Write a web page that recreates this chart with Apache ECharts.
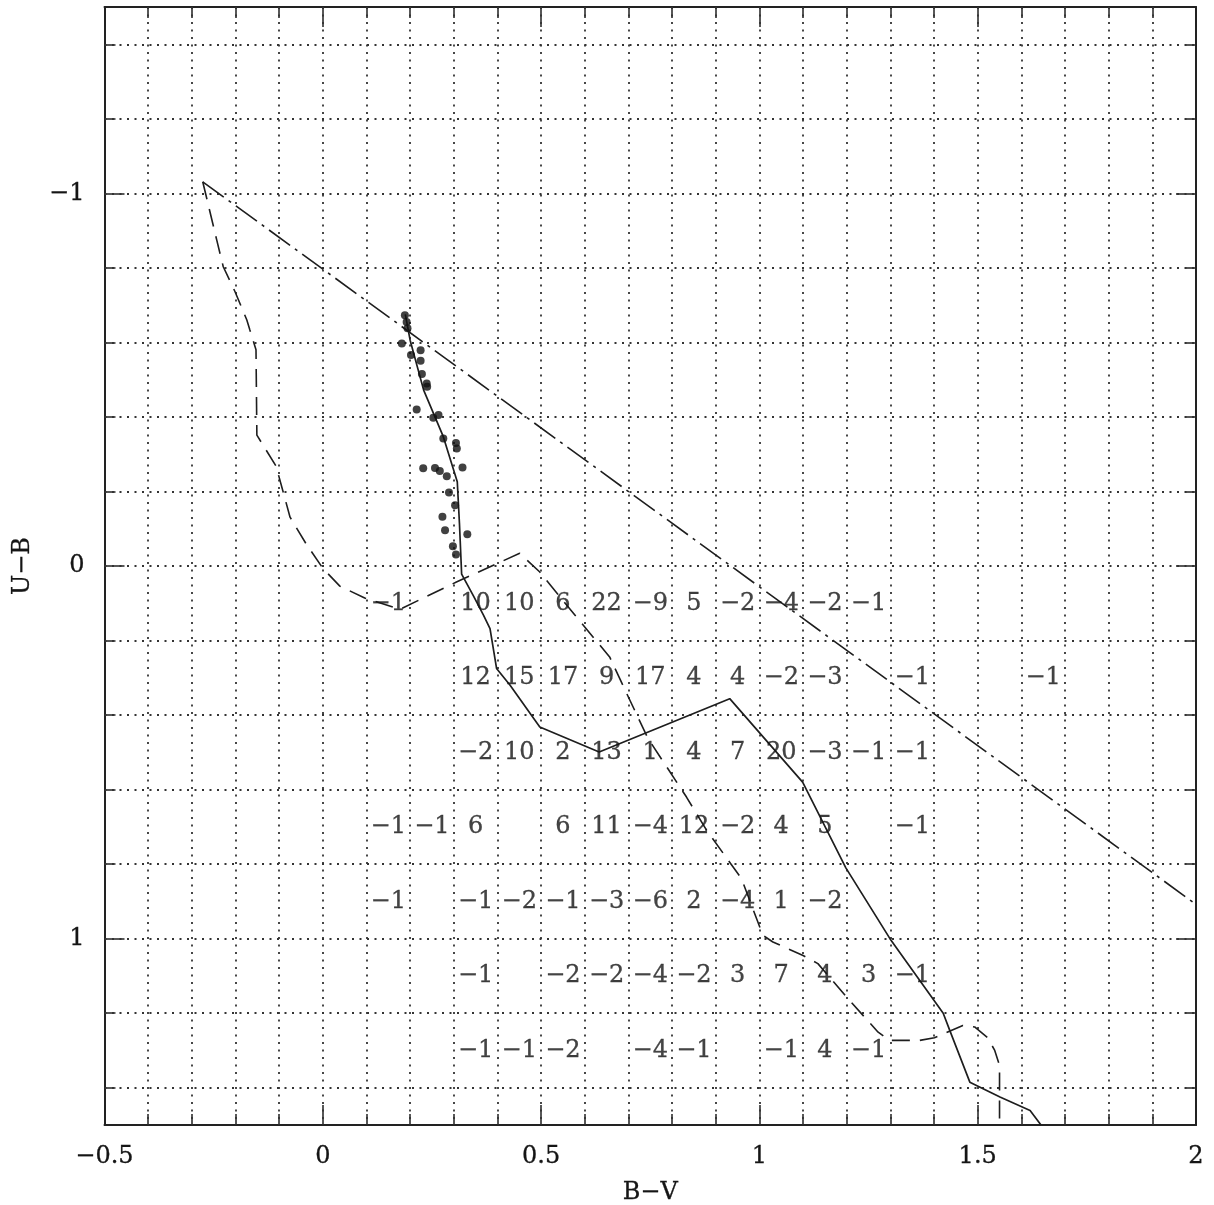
<!DOCTYPE html>
<html><head><meta charset="utf-8">
<script src="https://cdn.jsdelivr.net/npm/echarts@6/dist/echarts.min.js"></script>
<style>html,body{margin:0;padding:0;background:#fff}#c{width:1214px;height:1205px}</style>
</head><body><div id="c"></div>
<script>
// ---- data ----
const gridBV = [-0.4,-0.3,-0.2,-0.1,0,0.1,0.2,0.3,0.4,0.5,0.6,0.7,0.8,0.9,1.0,1.1,1.2,1.3,1.4,1.5,1.6,1.7,1.8,1.9];
const gridUB = [-1.4,-1.2,-1.0,-0.8,-0.6,-0.4,-0.2,0,0.2,0.4,0.6,0.8,1.0,1.2,1.4];
const yLabelValues = [-1, 0, 1];

// reddening (dash-dot) line
const reddeningBV = [-0.275, 2.0];
const reddeningUB = [-1.031, 0.908];

// dashed curve
const dashedBV = [-0.275,-0.243,-0.228,-0.201,-0.174,-0.167,-0.153,-0.151,-0.107,-0.075,-0.039,0.000,0.039,0.096,0.177,0.306,0.451,0.497,0.581,0.657,0.696,0.745,0.833,0.879,0.959,1.008,1.031,1.100,1.134,1.203,1.272,1.298,1.367,1.401,1.466,1.493,1.523,1.539,1.550,1.550];
const dashedUB = [-1.031,-0.875,-0.803,-0.736,-0.660,-0.633,-0.580,-0.351,-0.268,-0.131,-0.061,0.006,0.054,0.086,0.116,0.043,-0.034,0.016,0.137,0.244,0.342,0.463,0.620,0.709,0.839,0.991,1.009,1.045,1.067,1.161,1.251,1.273,1.273,1.266,1.233,1.237,1.266,1.300,1.340,1.500];

// solid curve
const solidBV = [0.189,0.200,0.231,0.276,0.308,0.313,0.318,0.345,0.368,0.383,0.398,0.429,0.497,0.633,0.932,1.099,1.198,1.299,1.421,1.436,1.482,1.551,1.620,1.645];
const solidUB = [-0.675,-0.606,-0.472,-0.347,-0.226,-0.114,0.022,0.080,0.132,0.168,0.275,0.320,0.432,0.499,0.356,0.580,0.810,1.000,1.200,1.246,1.385,1.425,1.461,1.500];

// observed stars
const starsBV = [0.188,0.192,0.194,0.181,0.224,0.202,0.224,0.227,0.238,0.239,0.215,0.253,0.265,0.276,0.305,0.307,0.230,0.257,0.268,0.284,0.320,0.289,0.303,0.274,0.280,0.331,0.298,0.305];
const starsUB = [-0.673,-0.655,-0.638,-0.597,-0.579,-0.566,-0.551,-0.515,-0.490,-0.481,-0.420,-0.398,-0.405,-0.342,-0.330,-0.315,-0.262,-0.263,-0.255,-0.241,-0.264,-0.197,-0.163,-0.132,-0.096,-0.085,-0.053,-0.031];

// cell counts
const cellBV = [0.15,0.25,0.35,0.45,0.55,0.65,0.75,0.85,0.95,1.05,1.15,1.25,1.35,1.45,1.55,1.65];
const cellUB = [0.1,0.3,0.5,0.7,0.9,1.1,1.3];
const countsRow1 = [-1,null,10,10,6,22,-9,5,-2,-4,-2,-1,null,null,null,null];
const countsRow2 = [null,null,12,15,17,9,17,4,4,-2,-3,null,-1,null,null,-1];
const countsRow3 = [null,null,-2,10,2,13,1,4,7,20,-3,-1,-1,null,null,null];
const countsRow4 = [-1,-1,6,null,6,11,-4,12,-2,4,5,null,-1,null,null,null];
const countsRow5 = [-1,null,-1,-2,-1,-3,-6,2,-4,1,-2,null,null,null,null,null];
const countsRow6 = [null,null,-1,null,-2,-2,-4,-2,3,7,4,3,-1,null,null,null];
const countsRow7 = [null,null,-1,-1,-2,null,-4,-1,null,-1,4,-1,null,null,null,null];
const countRows = [countsRow1,countsRow2,countsRow3,countsRow4,countsRow5,countsRow6,countsRow7];

// ---- build ----
const FONT = 'DejaVu Serif';
const INK = '#151515';
const minus = v => (v < 0 ? '\u2212' + String(Math.abs(v)) : String(v));
const pairs = (a, b) => a.map((x, i) => [x, b[i]]);

const cellData = [];
countRows.forEach((row, r) => row.forEach((n, c) => {
  if (n !== null) cellData.push([cellBV[c], cellUB[r], minus(n)]);
}));

const labelFont = {fontFamily: FONT, fontSize: 24, color: INK, textBorderColor: INK, textBorderWidth: 0.3};
const axLine = {show: true, onZero: false, lineStyle: {color: '#222', width: 2}};
const noLine = {show: false, onZero: false};
const tickStyle = {color: '#222', width: 1.5};
const dotted = {color: '#333', width: 1.8, type: [2, 5.5]};

const xBase = {type: 'value', min: -0.5, max: 2, interval: 0.5, splitLine: {show: false}, axisLine: axLine};
const yBase = {type: 'value', min: -1.5, max: 1.5, inverse: true, splitLine: {show: false}};

const option = {
  animation: false,
  backgroundColor: '#fff',
  grid: {left: 104.5, right: 18, top: 7, bottom: 80, outerBoundsMode: 'none', containLabel: false},
  xAxis: [
    Object.assign({}, xBase, {
      position: 'bottom',
      axisTick: {show: true, inside: true, length: 20, lineStyle: tickStyle},
      minorTick: {show: true, splitNumber: 5, length: 11, lineStyle: tickStyle},
      axisLabel: Object.assign({margin: 20, formatter: v => minus(v)}, labelFont),
      name: 'B\u2212V', nameLocation: 'middle', nameGap: 56,
      nameTextStyle: labelFont
    }),
    Object.assign({}, xBase, {
      position: 'top',
      axisTick: {show: true, inside: true, length: 20, lineStyle: tickStyle},
      minorTick: {show: true, splitNumber: 5, length: 11, lineStyle: tickStyle},
      axisLabel: {show: false}
    })
  ],
  yAxis: [
    Object.assign({}, yBase, {
      position: 'left', axisLine: axLine,
      axisTick: {show: true, inside: true, length: 20, customValues: yLabelValues, lineStyle: tickStyle},
      axisLabel: Object.assign({margin: 20, customValues: yLabelValues, formatter: v => minus(v)}, labelFont),
      name: 'U\u2212B', nameLocation: 'middle', nameGap: 70, nameRotate: 90,
      nameTextStyle: labelFont
    }),
    Object.assign({}, yBase, {
      position: 'right', axisLine: axLine,
      axisTick: {show: true, inside: true, length: 20, customValues: yLabelValues, lineStyle: tickStyle},
      axisLabel: {show: false}
    }),
    Object.assign({}, yBase, {
      position: 'left', axisLine: noLine,
      axisTick: {show: true, inside: true, length: 11, customValues: gridUB, lineStyle: tickStyle},
      axisLabel: {show: false}
    }),
    Object.assign({}, yBase, {
      position: 'right', axisLine: noLine,
      axisTick: {show: true, inside: true, length: 11, customValues: gridUB, lineStyle: tickStyle},
      axisLabel: {show: false}
    })
  ],
  series: [
    {
      type: 'line', name: 'reddening', data: pairs(reddeningBV, reddeningUB),
      symbol: 'none', z: 3,
      lineStyle: {color: '#1e1e1e', width: 1.6, type: [26, 6, 3, 6]},
      markLine: {
        silent: true, symbol: ['none', 'none'], label: {show: false}, z: 1,
        lineStyle: dotted,
        emphasis: {disabled: true},
        data: gridBV.map(v => ({xAxis: v})).concat(gridUB.map(v => ({yAxis: v})))
      }
    },
    {
      type: 'line', name: 'dashed', data: pairs(dashedBV, dashedUB),
      symbol: 'none', z: 3,
      lineStyle: {color: '#1e1e1e', width: 1.6, type: [18, 10]}
    },
    {
      type: 'line', name: 'solid', data: pairs(solidBV, solidUB),
      symbol: 'none', z: 3,
      lineStyle: {color: '#1e1e1e', width: 1.7}
    },
    {
      type: 'scatter', name: 'stars', data: pairs(starsBV, starsUB),
      symbol: 'circle', symbolSize: 8, z: 4,
      itemStyle: {color: '#111'}
    },
    {
      type: 'scatter', name: 'counts', data: cellData,
      symbolSize: 1, z: 5, silent: true,
      itemStyle: {color: 'rgba(0,0,0,0)'},
      label: Object.assign({show: true, position: 'inside', formatter: p => p.data[2]}, labelFont)
    }
  ]
};

const chart = echarts.init(document.getElementById('c'), null, {renderer: 'canvas'});
chart.setOption(option);
</script></body></html>
